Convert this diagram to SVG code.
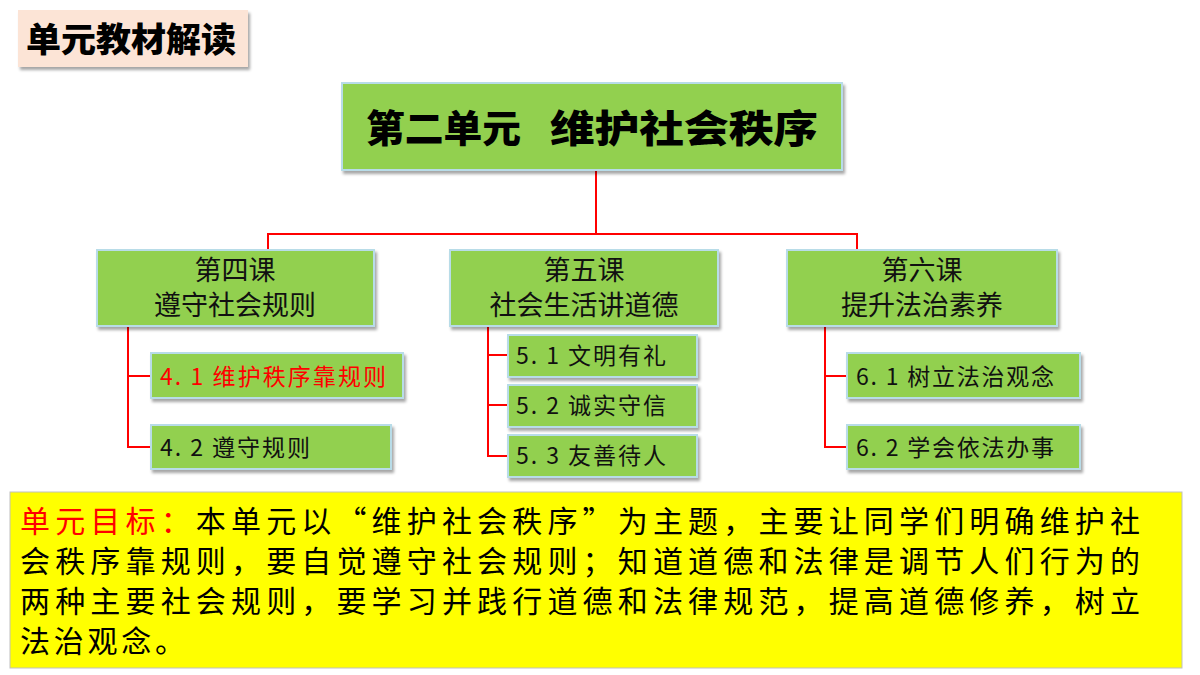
<svg xmlns="http://www.w3.org/2000/svg" width="1200" height="675" viewBox="0 0 1200 675">
<defs>
<filter id="sh" x="-5%" y="-5%" width="112%" height="125%"><feDropShadow dx="2" dy="3" stdDeviation="1.5" flood-color="#000" flood-opacity="0.35"/></filter>
<style>
text{font-family:"Noto Sans CJK SC","Liberation Sans",sans-serif;}
.g{fill:#92d050;stroke:#b8dce8;stroke-width:2;filter:url(#sh);}
.c{fill:none;stroke:#ff0000;stroke-width:2;}
.t{font-size:27px;fill:#111;text-anchor:middle;}
.s{font-size:23px;fill:#111;}
.p{font-size:30px;fill:#000;}
</style>
</defs>
<rect width="1200" height="675" fill="#fff"/>
<g id="header"><rect x="18" y="10" width="230" height="57" fill="#fce4d6" filter="url(#sh)"/><text x="26" y="52" font-size="34" font-weight="900" fill="#000" textLength="210" lengthAdjust="spacingAndGlyphs">单元教材解读</text></g>
<g id="connectors">
<path class="c" d="M596 170V234M268 250V234H857V250"/>
<path class="c" d="M128 326V447H151M128 376H151"/>
<path class="c" d="M488 326V456H508M488 355H508M488 405H508"/>
<path class="c" d="M825 326V447H847M825 376H847"/>
</g>
<g id="main"><rect class="g" x="342" y="83" width="500" height="87"/><text x="366" y="142" font-size="38" font-weight="900" fill="#000" textLength="155" lengthAdjust="spacingAndGlyphs">第二单元</text><text x="550" y="142" font-size="38" font-weight="900" fill="#000" textLength="268" lengthAdjust="spacingAndGlyphs">维护社会秩序</text></g>
<g id="l4"><rect class="g" x="97" y="250" width="277" height="76"/><text class="t" x="235" y="280">第四课</text><text class="t" x="235" y="315">遵守社会规则</text></g>
<g id="l5"><rect class="g" x="450" y="250" width="268" height="76"/><text class="t" x="584" y="280">第五课</text><text class="t" x="584" y="315">社会生活讲道德</text></g>
<g id="l6"><rect class="g" x="787" y="250" width="270" height="76"/><text class="t" x="922" y="280">第六课</text><text class="t" x="922" y="315">提升法治素养</text></g>
<g id="n41"><rect class="g" x="151" y="353" width="252" height="45"/><text class="s" x="160" y="385" style="fill:#ff0000" textLength="226">4. 1  维护秩序靠规则</text></g>
<g id="n42"><rect class="g" x="151" y="425" width="240" height="44"/><text class="s" x="160" y="456" textLength="150">4. 2  遵守规则</text></g>
<g id="n51"><rect class="g" x="508" y="335" width="189" height="42"/><text class="s" x="516" y="364" textLength="150">5. 1  文明有礼</text></g>
<g id="n52"><rect class="g" x="508" y="385" width="189" height="42"/><text class="s" x="516" y="414" textLength="150">5. 2  诚实守信</text></g>
<g id="n53"><rect class="g" x="508" y="435" width="189" height="42"/><text class="s" x="516" y="464" textLength="150">5. 3  友善待人</text></g>
<g id="n61"><rect class="g" x="847" y="353" width="233" height="45"/><text class="s" x="856" y="385" textLength="198">6. 1  树立法治观念</text></g>
<g id="n62"><rect class="g" x="847" y="425" width="233" height="44"/><text class="s" x="856" y="456" textLength="198">6. 2  学会依法办事</text></g>
<g id="goal"><rect x="10" y="492" width="1172" height="176" fill="#ffff00" stroke="#bfbfbf" stroke-width="1"/>
<text class="p" x="20" y="532" textLength="1120"><tspan fill="#ff0000">单元目标：</tspan>本单元以“维护社会秩序”为主题，主要让同学们明确维护社</text>
<text class="p" x="20" y="572" textLength="1120">会秩序靠规则，要自觉遵守社会规则；知道道德和法律是调节人们行为的</text>
<text class="p" x="20" y="612" textLength="1120">两种主要社会规则，要学习并践行道德和法律规范，提高道德修养，树立</text>
<text class="p" x="20" y="652" textLength="165">法治观念。</text></g>
</svg>
